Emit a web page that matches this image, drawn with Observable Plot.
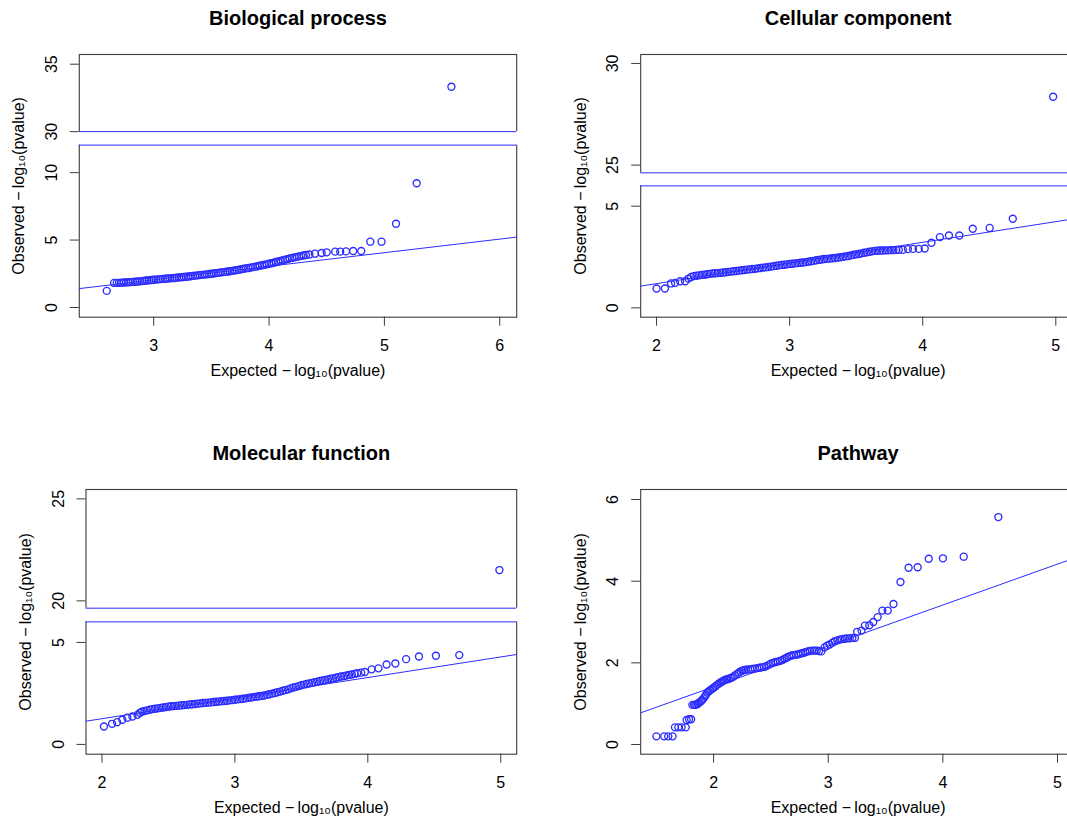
<!DOCTYPE html>
<html>
<head>
<meta charset="utf-8">
<script src="https://cdn.jsdelivr.net/npm/d3@7"></script>
<script src="https://cdn.jsdelivr.net/npm/@observablehq/plot@0.6"></script>
<style>
  body { margin: 0; background: #fff; }
  #chart { position: relative; width: 1067px; height: 821px; overflow: hidden; background: #fff;
           font-family: "Liberation Sans", Arial, Helvetica, sans-serif; }
  #chart svg { position: absolute; }
</style>
</head>
<body>
<div id="chart"></div>
<script>
// ---------- Titles & labels ----------
const titles = ["Biological process", "Cellular component", "Molecular function", "Pathway"];
const xLabel = "Expected \u2212\u2009log\u2081\u2080(pvalue)";
const yLabel = "Observed \u2212\u2009log\u2081\u2080(pvalue)";

// ---------- Biological process ----------
const bpExpected = [2.593, 2.657, 2.68,
  2.70, 2.72, 2.74, 2.76, 2.78, 2.80, 2.82, 2.84, 2.86, 2.88,
  2.90, 2.92, 2.94, 2.96, 2.98, 3.00, 3.02, 3.04, 3.06, 3.08,
  3.10, 3.12, 3.14, 3.16, 3.18, 3.20, 3.22, 3.24, 3.26, 3.28,
  3.30, 3.32, 3.34, 3.36, 3.38, 3.40, 3.42, 3.44, 3.46, 3.48,
  3.50, 3.52, 3.54, 3.56, 3.58, 3.60, 3.62, 3.64, 3.66, 3.68,
  3.70, 3.72, 3.74, 3.76, 3.78, 3.80, 3.82, 3.84, 3.86, 3.88,
  3.90, 3.92, 3.94, 3.96, 3.98, 4.00, 4.02, 4.04, 4.06, 4.08,
  4.10, 4.12, 4.14, 4.16, 4.18, 4.20, 4.22, 4.24, 4.26, 4.28,
  4.30, 4.32, 4.35, 4.398, 4.456, 4.50, 4.573, 4.617, 4.667, 4.729,
  4.799, 4.878, 4.975, 5.101, 5.280, 5.581];
const bpObserved = [1.23, 1.82, 1.82,
  1.83, 1.84, 1.85, 1.86, 1.87, 1.88, 1.90, 1.91, 1.93, 1.94,
  1.96, 1.98, 2.00, 2.02, 2.04, 2.06, 2.07, 2.09, 2.10, 2.12,
  2.13, 2.15, 2.16, 2.18, 2.19, 2.21, 2.23, 2.24, 2.26, 2.28,
  2.30, 2.32, 2.34, 2.36, 2.38, 2.40, 2.42, 2.44, 2.46, 2.48,
  2.50, 2.52, 2.55, 2.57, 2.60, 2.62, 2.64, 2.67, 2.69, 2.72,
  2.74, 2.77, 2.80, 2.84, 2.87, 2.90, 2.93, 2.96, 2.99, 3.03,
  3.06, 3.10, 3.13, 3.17, 3.20, 3.24, 3.28, 3.32, 3.37, 3.41,
  3.46, 3.50, 3.55, 3.59, 3.64, 3.68, 3.72, 3.75, 3.79, 3.83,
  3.86, 3.89, 3.93, 3.99, 4.04, 4.09, 4.14, 4.14, 4.16, 4.19,
  4.19, 4.88, 4.88, 6.21, 9.21, 33.33];
const bpLineX = [2.355, 6.147];
const bpLineY = [1.40, 5.22];
const bpXTicks = [3, 4, 5, 6];
const bpYTicks = [0, 5, 10, 30, 35];
const bpGap = [12.04, 30, 1.0];       // lower top, upper bottom, visual gap
const bpXDomain = [2.355, 6.147];
const bpYDomain = [-0.72, 18.76];

// ---------- Cellular component ----------
const ccExpected = [2.000, 2.063, 2.109, 2.139, 2.177, 2.215,
  2.24, 2.26, 2.28, 2.30, 2.32, 2.34, 2.36, 2.38, 2.40, 2.42,
  2.44, 2.46, 2.48, 2.50, 2.52, 2.54, 2.56, 2.58, 2.60, 2.62,
  2.64, 2.66, 2.68, 2.70, 2.72, 2.74, 2.76, 2.78, 2.80, 2.82,
  2.84, 2.86, 2.88, 2.90, 2.92, 2.94, 2.96, 2.98, 3.00, 3.02,
  3.04, 3.06, 3.08, 3.10, 3.12, 3.14, 3.16, 3.18, 3.20, 3.22,
  3.24, 3.26, 3.28, 3.30, 3.32, 3.34, 3.36, 3.38, 3.40, 3.42,
  3.44, 3.46, 3.48, 3.50, 3.52, 3.54, 3.56, 3.58, 3.60, 3.62,
  3.64, 3.66, 3.68, 3.70, 3.72, 3.74, 3.76, 3.78, 3.80, 3.82,
  3.851, 3.889, 3.927, 3.970, 4.015, 4.066, 4.129, 4.197, 4.275, 4.376,
  4.503, 4.677, 4.980];
const ccObserved = [0.95, 0.95, 1.20, 1.23, 1.31, 1.31,
  1.44, 1.52, 1.56, 1.58, 1.60, 1.62, 1.63, 1.65, 1.67, 1.69,
  1.70, 1.71, 1.72, 1.74, 1.75, 1.77, 1.78, 1.80, 1.81, 1.83,
  1.85, 1.86, 1.88, 1.89, 1.91, 1.92, 1.94, 1.96, 1.98, 1.99,
  2.01, 2.03, 2.05, 2.07, 2.09, 2.11, 2.12, 2.14, 2.16, 2.17,
  2.19, 2.20, 2.22, 2.23, 2.25, 2.27, 2.29, 2.31, 2.34, 2.36,
  2.38, 2.40, 2.41, 2.42, 2.44, 2.45, 2.47, 2.49, 2.51, 2.53,
  2.55, 2.58, 2.61, 2.63, 2.65, 2.68, 2.71, 2.73, 2.76, 2.78,
  2.80, 2.81, 2.82, 2.82, 2.83, 2.83, 2.84, 2.84, 2.85, 2.85,
  2.85, 2.89, 2.90, 2.90, 2.92, 3.20, 3.48, 3.56, 3.56, 3.89,
  3.93, 4.38, 28.36];
const ccLineX = [1.881, 5.148];
const ccLineY = [1.07, 4.39];
const ccXTicks = [2, 3, 4, 5];
const ccYTicks = [0, 5, 25, 30];
const ccGap = [6.0, 24.62, 0.64];
const ccXDomain = [1.881, 5.148];
const ccYDomain = [-0.46, 12.46];

// ---------- Molecular function ----------
const mfExpected = [2.015, 2.076, 2.114, 2.153, 2.191, 2.229, 2.267, 2.285,
  2.30, 2.32, 2.34, 2.36, 2.38, 2.40, 2.42, 2.44, 2.46, 2.48,
  2.50, 2.52, 2.54, 2.56, 2.58, 2.60, 2.62, 2.64, 2.66, 2.68,
  2.70, 2.72, 2.74, 2.76, 2.78, 2.80, 2.82, 2.84, 2.86, 2.88,
  2.90, 2.92, 2.94, 2.96, 2.98, 3.00, 3.02, 3.04, 3.06, 3.08,
  3.10, 3.12, 3.14, 3.16, 3.18, 3.20, 3.22, 3.24, 3.26, 3.28,
  3.30, 3.32, 3.34, 3.36, 3.38, 3.40, 3.42, 3.44, 3.46, 3.48,
  3.50, 3.52, 3.54, 3.56, 3.58, 3.60, 3.62, 3.64, 3.66, 3.68,
  3.70, 3.72, 3.74, 3.76, 3.78, 3.80, 3.82, 3.84, 3.86, 3.88,
  3.90, 3.92, 3.950, 3.978, 4.029, 4.080, 4.141, 4.207, 4.288, 4.385,
  4.512, 4.688, 4.990];
const mfObserved = [0.88, 1.01, 1.09, 1.21, 1.31, 1.37, 1.45, 1.55,
  1.60, 1.64, 1.67, 1.70, 1.73, 1.75, 1.77, 1.79, 1.81, 1.83,
  1.85, 1.87, 1.88, 1.89, 1.90, 1.92, 1.93, 1.94, 1.96, 1.97,
  1.98, 2.00, 2.01, 2.03, 2.04, 2.05, 2.06, 2.08, 2.09, 2.10,
  2.12, 2.13, 2.14, 2.16, 2.17, 2.19, 2.21, 2.22, 2.24, 2.26,
  2.28, 2.30, 2.32, 2.34, 2.36, 2.38, 2.40, 2.43, 2.46, 2.49,
  2.52, 2.56, 2.59, 2.63, 2.66, 2.70, 2.75, 2.79, 2.82, 2.86,
  2.90, 2.93, 2.96, 2.99, 3.02, 3.05, 3.08, 3.11, 3.14, 3.16,
  3.19, 3.22, 3.24, 3.27, 3.30, 3.33, 3.35, 3.38, 3.41, 3.43,
  3.46, 3.49, 3.52, 3.55, 3.68, 3.73, 3.92, 3.97, 4.18, 4.31,
  4.35, 4.38, 21.51];
const mfLineX = [1.880, 5.12];
const mfLineY = [1.14, 4.41];
const mfXTicks = [2, 3, 4, 5];
const mfYTicks = [0, 5, 20, 25];
const mfGap = [6.01, 19.64, 0.67];
const mfXDomain = [1.880, 5.12];
const mfYDomain = [-0.48, 12.5];

// ---------- Pathway ----------
const pwExpected = [1.501, 1.569, 1.604, 1.642, 1.663, 1.692, 1.721, 1.757, 1.765, 1.786,
  1.804, 1.815, 1.830, 1.840, 1.850, 1.862, 1.875, 1.890, 1.900, 1.912,
  1.925, 1.933, 1.945, 1.956, 1.970, 1.985, 2.000, 2.015, 2.030, 2.044,
  2.060, 2.073, 2.085, 2.097, 2.110, 2.120, 2.132, 2.150, 2.167, 2.185,
  2.205, 2.220, 2.235, 2.250, 2.265, 2.280, 2.300, 2.320, 2.340, 2.360,
  2.380, 2.400, 2.420, 2.440, 2.460, 2.480, 2.500, 2.520, 2.540, 2.560,
  2.580, 2.600, 2.620, 2.640, 2.660, 2.680, 2.700, 2.720, 2.740, 2.760,
  2.780, 2.800, 2.820, 2.840, 2.860, 2.880, 2.900, 2.920, 2.940, 2.968,
  2.990, 3.012, 3.035, 3.056, 3.080, 3.100, 3.120, 3.144, 3.165, 3.188,
  3.210, 3.232, 3.252, 3.290, 3.320, 3.358, 3.393, 3.431, 3.472, 3.519,
  3.569, 3.630, 3.701, 3.780, 3.877, 4.000, 4.182, 4.484];
const pwObserved = [0.20, 0.20, 0.20, 0.20, 0.42, 0.42, 0.42, 0.42, 0.60, 0.62,
  0.62, 0.97, 0.97, 0.97, 0.98, 1.00, 1.03, 1.06, 1.09, 1.13,
  1.18, 1.22, 1.27, 1.30, 1.33, 1.36, 1.39, 1.42, 1.46, 1.49,
  1.52, 1.54, 1.56, 1.58, 1.59, 1.60, 1.61, 1.63, 1.65, 1.69,
  1.73, 1.76, 1.79, 1.81, 1.82, 1.83, 1.84, 1.84, 1.85, 1.86,
  1.87, 1.88, 1.89, 1.90, 1.92, 1.95, 1.98, 2.00, 2.02, 2.03,
  2.05, 2.07, 2.10, 2.13, 2.16, 2.18, 2.19, 2.20, 2.21, 2.23,
  2.24, 2.26, 2.28, 2.29, 2.30, 2.30, 2.30, 2.29, 2.28, 2.38,
  2.42, 2.45, 2.49, 2.53, 2.55, 2.57, 2.58, 2.59, 2.60, 2.60,
  2.61, 2.61, 2.76, 2.79, 2.91, 2.92, 3.00, 3.12, 3.28, 3.28,
  3.44, 3.98, 4.33, 4.34, 4.55, 4.56, 4.60, 5.57];
const pwLineX = [1.364, 5.157];
const pwLineY = [0.776, 4.575];
const pwXTicks = [2, 3, 4, 5];
const pwYTicks = [0, 2, 4, 6];
const pwXDomain = [1.364, 5.157];
const pwYDomain = [-0.237, 6.245];

// ---------- Layout (svg boxes) ----------
const panels = [
  {title: titles[0], ex: bpExpected, ob: bpObserved, lx: bpLineX, ly: bpLineY, xt: bpXTicks, yt: bpYTicks,
   gap: bpGap, xd: bpXDomain, yd: bpYDomain,
   left: 0, top: 0, width: 533, height: 410, mL: 78.8, mR: 16.8, mT: 54, mB: 93.3},
  {title: titles[1], ex: ccExpected, ob: ccObserved, lx: ccLineX, ly: ccLineY, xt: ccXTicks, yt: ccYTicks,
   gap: ccGap, xd: ccXDomain, yd: ccYDomain,
   left: 533, top: 0, width: 542, height: 410, mL: 107.2, mR: 0, mT: 54, mB: 93.3},
  {title: titles[2], ex: mfExpected, ob: mfObserved, lx: mfLineX, ly: mfLineY, xt: mfXTicks, yt: mfYTicks,
   gap: mfGap, xd: mfXDomain, yd: mfYDomain,
   left: 0, top: 410, width: 533, height: 411, mL: 85.5, mR: 16.8, mT: 79, mB: 67.3},
  {title: titles[3], ex: pwExpected, ob: pwObserved, lx: pwLineX, ly: pwLineY, xt: pwXTicks, yt: pwYTicks,
   gap: null, xd: pwXDomain, yd: pwYDomain,
   left: 533, top: 410, width: 542, height: 411, mL: 107.2, mR: 0, mT: 79, mB: 67.3}
];

const BLUE = "#2c2cff";
const FS = 16;

function build(p) {
  const g = p.gap;
  const disp = v => (!g || v <= g[0]) ? v : g[0] + g[2] + (v - g[1]);
  const pts = p.ex.map((x, i) => ({x, y: disp(p.ob[i])}));
  const line = p.lx.map((x, i) => ({x, y: disp(p.ly[i])}));
  const yTickDisp = p.yt.map(disp);
  const yLabelMap = new Map(yTickDisp.map((d, i) => [d, String(p.yt[i])]));
  const marks = [Plot.frame({stroke: "#3c3c3c", strokeWidth: 1.1})];
  if (g) {
    marks.push(Plot.rect([g], {y1: d => d[0], y2: d => d[0] + d[2], fill: "white", insetLeft: -3, insetRight: -3}));
    marks.push(Plot.ruleY([g[0], g[0] + g[2]], {stroke: BLUE, strokeWidth: 1}));
  }
  marks.push(
    Plot.line(line, {x: "x", y: "y", stroke: BLUE, strokeWidth: 1}),
    Plot.dot(pts, {x: "x", y: "y", r: 3.5, stroke: BLUE, strokeWidth: 1.35, fill: "none"}),
    Plot.axisX(p.xt, {tickSize: 9, tickPadding: 13, fontSize: FS, label: null, stroke: "#3c3c3c",
      tickFormat: d => String(d)}),
    Plot.axisY(yTickDisp, {tickSize: 9, tickPadding: 13.5, tickRotate: -90, textAnchor: "middle", lineAnchor: "bottom",
      tickFormat: d => yLabelMap.get(d), fontSize: FS, label: null, stroke: "#3c3c3c"}),
    Plot.text([p.title], {frameAnchor: "top", dy: -35.5, lineAnchor: "middle", fontSize: 20, fontWeight: "bold"}),
    Plot.text([xLabel], {frameAnchor: "bottom", dy: 54, lineAnchor: "middle", fontSize: FS}),
    Plot.text([yLabel], {frameAnchor: "left", dx: -60.2, rotate: -90, textAnchor: "middle", lineAnchor: "middle", fontSize: FS})
  );
  const svg = Plot.plot({
    width: p.width, height: p.height,
    marginLeft: p.mL, marginRight: p.mR, marginTop: p.mT, marginBottom: p.mB,
    x: {domain: p.xd},
    y: {domain: p.yd},
    style: {fontFamily: "'Liberation Sans', Arial, Helvetica, sans-serif", fontSize: FS + "px", color: "black",
            background: "transparent", overflow: "visible"},
    marks
  });
  svg.style.left = p.left + "px";
  svg.style.top = p.top + "px";
  return svg;
}

const chart = document.getElementById("chart");
for (const p of panels) chart.appendChild(build(p));
</script>
</body>
</html>
